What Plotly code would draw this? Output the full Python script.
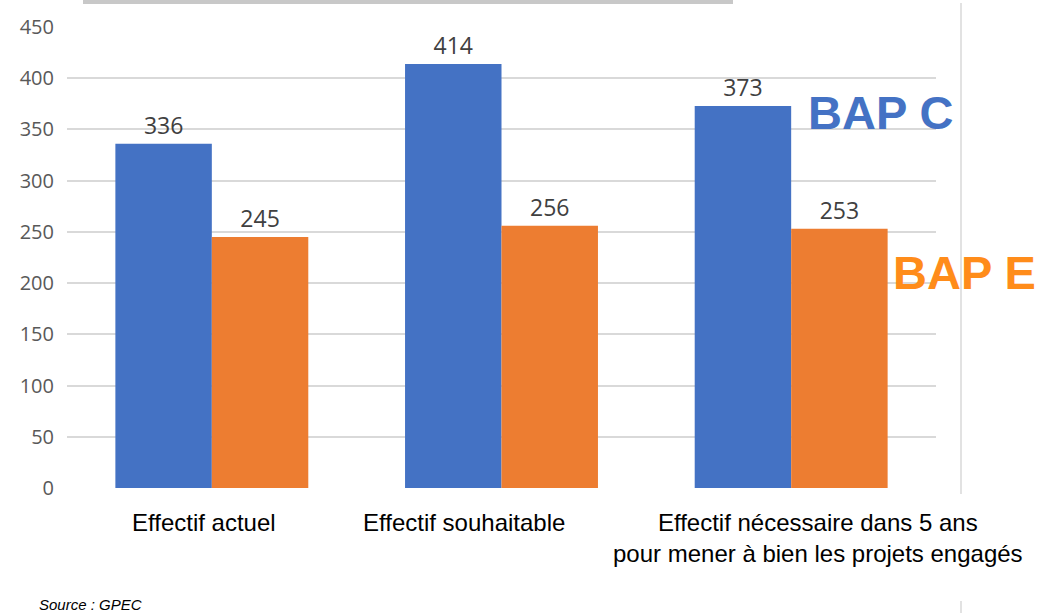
import plotly.graph_objects as go

# Data
categories = [
    "Effectif actuel",
    "Effectif souhaitable",
    "Effectif nécessaire dans 5 ans<br>pour mener à bien les projets engagés",
]
bap_c = [336, 414, 373]
bap_e = [245, 256, 253]
y_ticks = [0, 50, 100, 150, 200, 250, 300, 350, 400, 450]

BLUE = "#4472C4"
ORANGE = "#ED7D31"

# Plot-area geometry (pixels)
W, H = 1041, 613
L, R, T, B = 67, 105, 27, 125
PW, PH = W - L - R, H - T - B


def fx(px):
    return (px - L) / PW


def fy(py):
    return (H - B - py) / PH


fig = go.Figure()
fig.add_trace(go.Bar(
    x=categories, y=bap_c, name="BAP C", marker_color=BLUE,
    marker_line_width=0,
    text=bap_c, textposition="outside", cliponaxis=False,
    textfont=dict(family="Open Sans", size=23, color="#404040"),
))
fig.add_trace(go.Bar(
    x=categories, y=bap_e, name="BAP E", marker_color=ORANGE,
    marker_line_width=0,
    text=bap_e, textposition="outside", cliponaxis=False,
    textfont=dict(family="Open Sans", size=23, color="#404040"),
))

# Category labels under the axis
label_shift = [-8, -38, 27]
annotations = []
for cat, dx in zip(categories, label_shift):
    annotations.append(dict(
        x=cat, xref="x", y=fy(507), yref="paper", xshift=dx,
        text=cat, showarrow=False, xanchor="center", yanchor="top",
        align="center",
        font=dict(family="Liberation Sans, Arial", size=24, color="#000000"),
    ))

# Series labels
annotations.append(dict(
    x=fx(806), xref="paper", y=fy(112), yref="paper",
    text="<b>BAP C</b>", showarrow=False, xanchor="left", yanchor="middle",
    font=dict(family="Liberation Sans, Arial", size=47, color=BLUE),
))
annotations.append(dict(
    x=fx(891), xref="paper", y=fy(272), yref="paper",
    text="<b>BAP E</b>", showarrow=False, xanchor="left", yanchor="middle",
    font=dict(family="Liberation Sans, Arial", size=47, color="#FF8C1A"),
))
annotations.append(dict(
    x=fx(37), xref="paper", y=fy(594), yref="paper",
    text="<i>Source : GPEC</i>", showarrow=False, xanchor="left", yanchor="top",
    font=dict(family="Liberation Sans, Arial", size=15, color="#000000"),
))

shapes = [
    dict(type="rect", xref="paper", yref="paper",
         x0=fx(83), x1=fx(733), y0=fy(4), y1=fy(-2),
         fillcolor="#C8C8C8", line_width=0, layer="above"),
    dict(type="line", xref="paper", yref="paper",
         x0=fx(961), x1=fx(961), y0=fy(3), y1=fy(494),
         line=dict(color="#D9D9D9", width=1.5)),
    dict(type="line", xref="paper", yref="paper",
         x0=fx(961), x1=fx(961), y0=fy(601), y1=fy(615),
         line=dict(color="#D9D9D9", width=1.5)),
]

fig.update_layout(
    width=W, height=H,
    margin=dict(l=L, r=R, t=T, b=B, pad=0),
    paper_bgcolor="white", plot_bgcolor="white",
    barmode="group", bargap=0.334, bargroupgap=0,
    showlegend=False,
    annotations=annotations, shapes=shapes,
    xaxis=dict(range=[-0.5, len(categories) - 0.5], autorange=False,
               showticklabels=False, showgrid=False, zeroline=False,
               showline=False, ticks=""),
    yaxis=dict(range=[0, 450], tickvals=y_ticks,
               showgrid=True, gridcolor="#D9D9D9", gridwidth=1.5,
               zeroline=False, showline=False, ticks="",
               ticklabelstandoff=12,
               tickfont=dict(family="Open Sans", size=20, color="#595959")),
)

fig.write_html("out.html")
